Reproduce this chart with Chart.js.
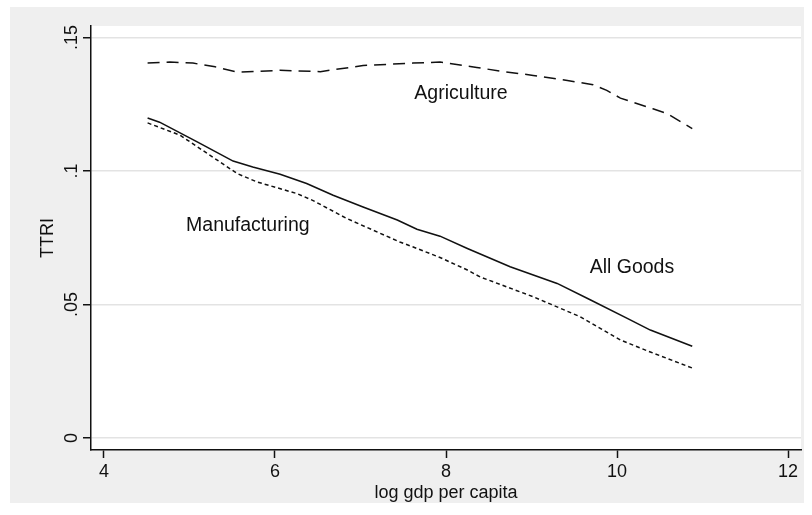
<!DOCTYPE html>
<html>
<head>
<meta charset="utf-8">
<script src="https://cdn.jsdelivr.net/npm/chart.js@4.4.1/dist/chart.umd.min.js"></script>
<style>
  html, body { margin: 0; padding: 0; background: #ffffff; }
  #wrap { width: 812px; height: 515px; }
</style>
</head>
<body>
<div id="wrap"><canvas id="c" width="812" height="515"></canvas></div>
<script>
// Smoothed TTRI by log GDP per capita
const agriX = [4.51, 4.77, 5.04, 5.30, 5.56, 6.06, 6.53, 7.03, 7.61, 7.93, 8.36, 8.63, 9.02, 9.42, 9.72, 9.88, 10.04, 10.42, 10.58, 10.88];
const agriY = [0.1404, 0.1408, 0.1404, 0.1390, 0.1370, 0.1377, 0.1372, 0.1395, 0.1404, 0.1408, 0.1388, 0.1374, 0.1358, 0.1339, 0.1323, 0.1302, 0.1273, 0.1233, 0.1216, 0.1159];

const allX = [4.51, 4.65, 5.09, 5.51, 5.74, 6.06, 6.37, 6.68, 7.03, 7.43, 7.66, 7.93, 8.25, 8.75, 9.30, 9.68, 10.12, 10.39, 10.88];
const allY = [0.1198, 0.1183, 0.1109, 0.1037, 0.1015, 0.0988, 0.0953, 0.0909, 0.0865, 0.0816, 0.0782, 0.0756, 0.0710, 0.0641, 0.0579, 0.0519, 0.0448, 0.0404, 0.0344];

const manX = [4.51, 4.89, 5.56, 5.79, 6.26, 6.44, 6.84, 7.46, 7.61, 7.93, 8.25, 8.40, 9.02, 9.57, 10.04, 10.39, 10.88];
const manY = [0.1180, 0.1134, 0.0990, 0.0959, 0.0915, 0.0890, 0.0822, 0.0734, 0.0716, 0.0676, 0.0629, 0.0603, 0.0529, 0.0454, 0.0367, 0.0322, 0.0262];

const xTicks = [4, 6, 8, 10, 12];
const yTicks = [0, 0.05, 0.10, 0.15];
const yTickLabels = ["0", ".05", ".1", ".15"];

// Curve labels placed in data coordinates (left edge, baseline)
const curveLabels = [
  { text: "Agriculture",   x: 7.63, y: 0.1268 },
  { text: "All Goods",     x: 9.68, y: 0.0617 },
  { text: "Manufacturing", x: 4.96, y: 0.0776 }
];

const FONT = '"Liberation Sans", Arial, sans-serif';

function pts(xs, ys) { return xs.map((x, i) => ({ x: x, y: ys[i] })); }

const backdrop = {
  id: 'backdrop',
  beforeDraw(chart) {
    const { ctx, chartArea: a } = chart;
    ctx.save();
    ctx.fillStyle = '#efefef';
    ctx.fillRect(10, 7, 794, 496);
    ctx.fillStyle = '#ffffff';
    ctx.fillRect(a.left, a.top, a.right - a.left, a.bottom - a.top);
    ctx.restore();
  },
  afterDraw(chart) {
    const { ctx, chartArea: a, scales } = chart;
    const ys = scales.y, xs = scales.x;
    ctx.save();
    ctx.fillStyle = '#111111';
    // rotated y tick labels
    ctx.font = '18px ' + FONT;
    ctx.textAlign = 'center';
    ctx.textBaseline = 'alphabetic';
    yTicks.forEach((v, i) => {
      const py = ys.getPixelForValue(v);
      ctx.save();
      ctx.translate(a.left - 14, py);
      ctx.rotate(-Math.PI / 2);
      ctx.fillText(yTickLabels[i], 0, 0);
      ctx.restore();
    });
    // y axis title
    ctx.save();
    ctx.translate(a.left - 38, (a.top + a.bottom) / 2);
    ctx.rotate(-Math.PI / 2);
    ctx.fillText('TTRI', 0, 0);
    ctx.restore();
    // curve labels
    ctx.font = '19.5px ' + FONT;
    ctx.textAlign = 'left';
    curveLabels.forEach(l => {
      ctx.fillText(l.text, xs.getPixelForValue(l.x), ys.getPixelForValue(l.y));
    });
    ctx.restore();
  }
};

new Chart(document.getElementById('c'), {
  type: 'scatter',
  data: {
    datasets: [
      { label: 'Agriculture', data: pts(agriX, agriY), showLine: true, borderColor: '#111', borderWidth: 1.5, borderDash: [12, 7], pointRadius: 0, tension: 0 },
      { label: 'All Goods', data: pts(allX, allY), showLine: true, borderColor: '#111', borderWidth: 1.6, pointRadius: 0, tension: 0 },
      { label: 'Manufacturing', data: pts(manX, manY), showLine: true, borderColor: '#111', borderWidth: 1.5, borderDash: [4, 3], pointRadius: 0, tension: 0 }
    ]
  },
  options: {
    responsive: false,
    animation: false,
    events: [],
    layout: { padding: { left: 10, right: 11, top: 26, bottom: 0 } },
    plugins: { legend: { display: false }, tooltip: { enabled: false } },
    scales: {
      x: {
        type: 'linear',
        min: 3.848, max: 12.152,
        afterBuildTicks: s => { s.ticks = xTicks.map(v => ({ value: v })); },
        afterFit: s => { s.height = 65; },
        grid: { drawOnChartArea: false, drawTicks: true, tickLength: 8, tickColor: '#111', tickWidth: 1.5 },
        border: { display: true, color: '#111', width: 1.5 },
        ticks: { color: '#111', font: { family: FONT, size: 18 }, padding: 3, maxRotation: 0, autoSkip: false,
                 callback: v => String(v) },
        title: { display: true, text: 'log gdp per capita', color: '#111', font: { family: FONT, size: 18 }, padding: { top: 0, bottom: 11 } }
      },
      y: {
        type: 'linear',
        min: -0.0045, max: 0.1543,
        afterBuildTicks: s => { s.ticks = yTicks.map(v => ({ value: v })); },
        afterFit: s => { s.width = 81; },
        grid: { drawOnChartArea: true, color: '#e3e3e3', lineWidth: 1.5, drawTicks: true, tickLength: 8, tickColor: '#111', tickWidth: 1.5 },
        border: { display: true, color: '#111', width: 1.5 },
        ticks: { display: false }
      }
    }
  },
  plugins: [backdrop]
});
</script>
</body>
</html>
